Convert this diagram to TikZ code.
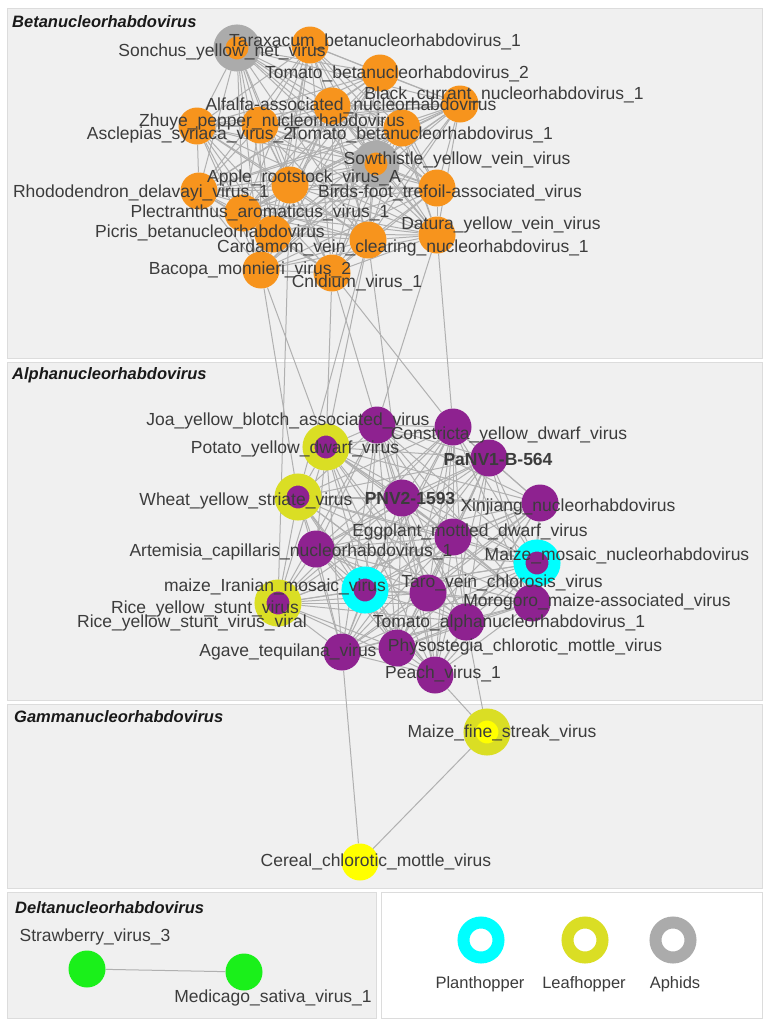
\documentclass[tikz,border=0pt]{standalone}
\usepackage{fontspec}
\setmainfont{Liberation Sans}
\usepackage{tikz}
\usetikzlibrary{backgrounds}
\usepackage{xcolor}

\definecolor{betaorange}{HTML}{F7941D}
\definecolor{alphapurple}{HTML}{8E2290}
\definecolor{leafring}{HTML}{DADE24}
\definecolor{planring}{HTML}{00FFFF}
\definecolor{aphring}{HTML}{ABABAB}
\definecolor{gammayellow}{HTML}{FFFF00}
\definecolor{deltagreen}{HTML}{1AF01A}
\definecolor{edgegray}{HTML}{B0B0B0}
\definecolor{panelfill}{HTML}{F0F0F0}
\definecolor{paneldraw}{HTML}{DCDCDC}
\definecolor{labtext}{HTML}{3C3C3C}

\newcommand\betalist{snyv,tarax,tbnv2,bcnv,alfa,zhuye,ascl,tbnv1,syvv,apple,bird,rhodo,plect,picris,datura,carda,bacopa,cnid}
\newcommand\alphalist{joa,constr,pydv,panv,wysv,pnv,xinj,emdv,artem,mmv,mimv,taro,rysv,morog,tomalpha,agave,physo,peach}

\begin{document}
\begin{tikzpicture}[x=1pt, y=-1pt,
  panel/.style={fill=panelfill, draw=paneldraw, line width=1pt},
  vnode/.style={circle, inner sep=0pt, minimum size=37pt},
  bnode/.style={vnode, fill=betaorange},
  anode/.style={vnode, fill=alphapurple},
  ring/.style={circle, inner sep=0pt, minimum size=35pt, line width=12pt, draw=#1},
  lab/.style={font=\fontsize{17.5}{19}\selectfont, text=labtext, inner sep=0pt},
  blab/.style={lab, font=\fontsize{17.5}{19}\selectfont\bfseries},
  leglab/.style={lab, font=\fontsize{16.5}{18}\selectfont},
  title/.style={font=\fontsize{16.5}{18}\selectfont\bfseries\itshape,
                anchor=west, inner sep=0pt, text=black!90},
  edge/.style={draw=edgegray, line width=1pt},
]
  \useasboundingbox (0,0) rectangle (768,1026);

  %% ---- PANELS ----
  \begin{scope}[on background layer]
    \fill[white] (0,0) rectangle (768,1026);
    \draw[panel] (7,8) rectangle (762,358);
    \draw[panel] (7,362) rectangle (762,700);
    \draw[panel] (7,704) rectangle (762,888);
    \draw[panel] (7,892) rectangle (376,1018);
    \draw[panel, fill=white] (381,892) rectangle (762,1018);
  \end{scope}

  \node[title] (beta-t)  at (12,22)  {Betanucleorhabdovirus};
  \node[title] (alpha-t) at (12,375) {Alphanucleorhabdovirus};
  \node[title] (gamma-t) at (14,717) {Gammanucleorhabdovirus};
  \node[title] (delta-t) at (15,908) {Deltanucleorhabdovirus};

  %% ---- BETA ----
  \node[ring=aphring, fill=betaorange] (snyv) at (237,48) {};
  \node[bnode] (tarax)  at (310,45)  {};
  \node[bnode] (tbnv2)  at (380,73)  {};
  \node[bnode] (bcnv)   at (460,104) {};
  \node[bnode] (alfa)   at (332,106) {};
  \node[bnode] (zhuye)  at (260,125) {};
  \node[bnode] (ascl)   at (197,126) {};
  \node[bnode] (tbnv1)  at (402,128) {};
  \node[ring=aphring, fill=betaorange] (syvv) at (376,164) {};
  \node[bnode] (apple)  at (290,185) {};
  \node[bnode] (bird)   at (437,188) {};
  \node[bnode] (rhodo)  at (199,191) {};
  \node[bnode] (plect)  at (243,213) {};
  \node[bnode] (picris) at (273,234) {};
  \node[bnode] (datura) at (437,235) {};
  \node[bnode] (carda)  at (368,240) {};
  \node[bnode] (bacopa) at (261,270) {};
  \node[bnode] (cnid)   at (332,273) {};

  %% ---- ALPHA ----
  \node[anode] (joa)    at (377,425) {};
  \node[anode] (constr) at (453,427) {};
  \node[ring=leafring, fill=alphapurple] (pydv) at (326,447) {};
  \node[anode] (panv)   at (489,458) {};
  \node[ring=leafring, fill=alphapurple] (wysv) at (298,497) {};
  \node[anode] (pnv)    at (402,498) {};
  \node[anode] (xinj)   at (540,503) {};
  \node[anode] (emdv)   at (453,537) {};
  \node[anode] (artem)  at (316,549) {};
  \node[ring=planring, fill=alphapurple] (mmv) at (537,563) {};
  \node[ring=planring, fill=alphapurple] (mimv) at (365,590) {};
  \node[anode] (taro)   at (428,593) {};
  \node[anode] (rysvv)  at (279,604) {};
  \node[ring=leafring, fill=alphapurple] (rysv) at (278,603) {};
  \node[anode] (morog)  at (532,603) {};
  \node[anode] (tomalpha) at (466,622) {};
  \node[anode] (agave)  at (342,652) {};
  \node[anode] (physo)  at (397,648) {};
  \node[anode] (peach)  at (435,675) {};

  %% ---- GAMMA ----
  \node[ring=leafring, fill=gammayellow] (mfsv) at (487,732) {};
  \node[vnode, fill=gammayellow] (ccmv) at (360,862) {};

  %% ---- DELTA ----
  \node[vnode, fill=deltagreen] (sv3)  at (87,969)  {};
  \node[vnode, fill=deltagreen] (msv1) at (244,972) {};

  %% ---- LEGEND ----
  \node[ring=planring, fill=white] (plh) at (481,940) {};
  \node[ring=leafring, fill=white] (lfh) at (585,940) {};
  \node[ring=aphring, fill=white]  (aph) at (673,940) {};
  \node[leglab] (plh-l) at (480,984) {Planthopper};
  \node[leglab] (lfh-l) at (584,984) {Leafhopper};
  \node[leglab] (aph-l) at (675,984) {Aphids};

  %% ---- labels ----
  \node[lab] (snyv-l)   at (222,52)  {Sonchus\_yellow\_net\_virus};
  \node[lab] (tarax-l)  at (375,42)  {Taraxacum\_betanucleorhabdovirus\_1};
  \node[lab] (tbnv2-l)  at (397,74)  {Tomato\_betanucleorhabdovirus\_2};
  \node[lab] (bcnv-l)   at (504,95)  {Black\_currant\_nucleorhabdovirus\_1};
  \node[lab] (alfa-l)   at (351,106) {Alfalfa-associated\_nucleorhabdovirus};
  \node[lab] (zhuye-l)  at (272,122) {Zhuye\_pepper\_nucleorhabdovirus};
  \node[lab] (ascl-l)   at (190,135) {Asclepias\_syriaca\_virus\_2};
  \node[lab] (tbnv1-l)  at (421,135) {Tomato\_betanucleorhabdovirus\_1};
  \node[lab] (syvv-l)   at (457,160) {Sowthistle\_yellow\_vein\_virus};
  \node[lab] (apple-l)  at (304,178) {Apple\_rootstock\_virus\_A};
  \node[lab] (bird-l)   at (450,193) {Birds-foot\_trefoil-associated\_virus};
  \node[lab] (rhodo-l)  at (141,193) {Rhododendron\_delavayi\_virus\_1};
  \node[lab] (plect-l)  at (260,213) {Plectranthus\_aromaticus\_virus\_1};
  \node[lab] (picris-l) at (210,233) {Picris\_betanucleorhabdovirus};
  \node[lab] (datura-l) at (501,225) {Datura\_yellow\_vein\_virus};
  \node[lab] (carda-l)  at (403,248) {Cardamom\_vein\_clearing\_nucleorhabdovirus\_1};
  \node[lab] (bacopa-l) at (250,270) {Bacopa\_monnieri\_virus\_2};
  \node[lab] (cnid-l)   at (357,283) {Cnidium\_virus\_1};

  \node[lab] (joa-l)    at (288,421) {Joa\_yellow\_blotch\_associated\_virus};
  \node[lab] (constr-l) at (509,435) {Constricta\_yellow\_dwarf\_virus};
  \node[lab] (pydv-l)   at (295,449) {Potato\_yellow\_dwarf\_virus};
  \node[blab] (panv-l)  at (498,459) {PaNV1-B-564};
  \node[lab] (wysv-l)   at (246,501) {Wheat\_yellow\_striate\_virus};
  \node[blab] (pnv-l)   at (410,498) {PNV2-1593};
  \node[lab] (xinj-l)   at (568,507) {Xinjiang\_nucleorhabdovirus};
  \node[lab] (emdv-l)   at (470,532) {Eggplant\_mottled\_dwarf\_virus};
  \node[lab] (artem-l)  at (291,552) {Artemisia\_capillaris\_nucleorhabdovirus\_1};
  \node[lab] (mmv-l)    at (617,556) {Maize\_mosaic\_nucleorhabdovirus};
  \node[lab] (mimv-l)   at (275,587) {maize\_Iranian\_mosaic\_virus};
  \node[lab] (taro-l)   at (502,583) {Taro\_vein\_chlorosis\_virus};
  \node[lab] (rysv-l)   at (205,609) {Rice\_yellow\_stunt\_virus};
  \node[lab] (rysvv-l)  at (192,623) {Rice\_yellow\_stunt\_virus\_viral};
  \node[lab] (morog-l)  at (597,602) {Morogoro\_maize-associated\_virus};
  \node[lab] (tomalpha-l) at (509,623) {Tomato\_alphanucleorhabdovirus\_1};
  \node[lab] (agave-l)  at (288,652) {Agave\_tequilana\_virus};
  \node[lab] (physo-l)  at (525,647) {Physostegia\_chlorotic\_mottle\_virus};
  \node[lab] (peach-l)  at (443,674) {Peach\_virus\_1};

  \node[lab] (mfsv-l)   at (502,733) {Maize\_fine\_streak\_virus};
  \node[lab] (ccmv-l)   at (376,862) {Cereal\_chlorotic\_mottle\_virus};
  \node[lab] (sv3-l)    at (95,937)  {Strawberry\_virus\_3};
  \node[lab] (msv1-l)   at (273,998) {Medicago\_sativa\_virus\_1};

  %% ---- edges ----
  \begin{scope}[on background layer]
    \foreach \a [count=\i] in \betalist {
      \foreach \b [count=\j] in \betalist {
        \ifnum\j>\i \draw[edge] (\a) -- (\b); \fi
      }
    }
    \foreach \a [count=\i] in \alphalist {
      \foreach \b [count=\j] in \alphalist {
        \ifnum\j>\i \draw[edge] (\a) -- (\b); \fi
      }
    }
    \foreach \a/\b in {bacopa/wysv, bacopa/pydv, apple/rysv, cnid/pydv,
                       cnid/joa, cnid/constr, carda/pydv, carda/pnv,
                       carda/wysv, datura/constr, datura/joa,
                       agave/ccmv, peach/mfsv, tomalpha/mfsv, ccmv/mfsv,
                       sv3/msv1}
      \draw[edge] (\a) -- (\b);
  \end{scope}
\end{tikzpicture}
\end{document}
